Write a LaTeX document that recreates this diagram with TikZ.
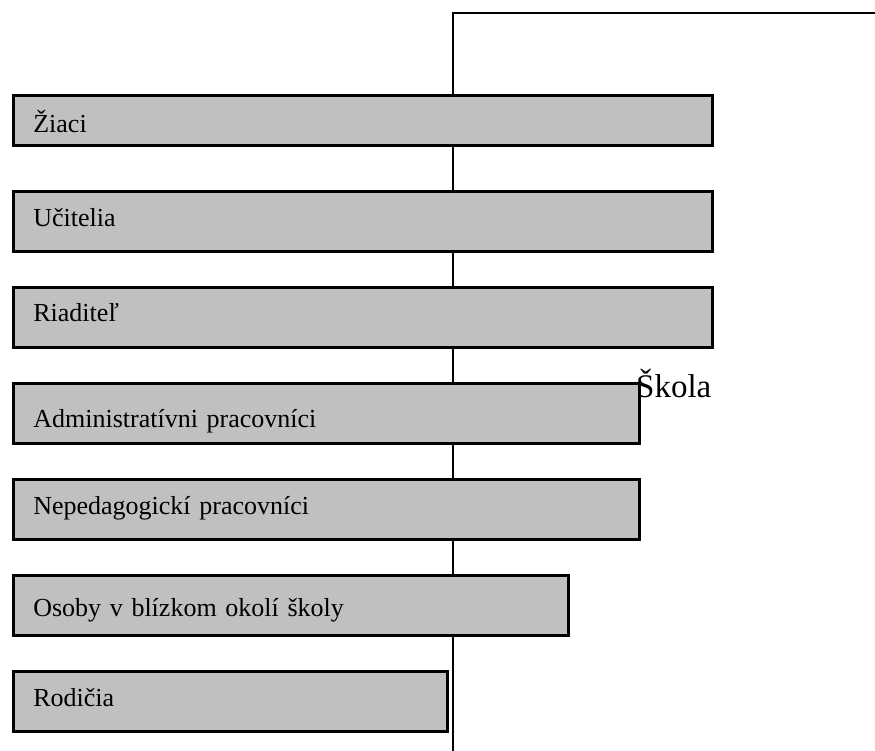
\documentclass[tikz,border=0pt]{standalone}
\usepackage{fontspec}
\setmainfont{Liberation Serif}
\definecolor{boxgray}{HTML}{C0C0C0}
\tikzset{
  member/.style={draw=black, line width=2.6pt, fill=boxgray, anchor=north west,
    inner ysep=0pt, inner xsep=20pt, minimum height=#1, align=left,
    font=\fontsize{26}{30}\selectfont, text depth=0pt},
  trunk/.style={draw=black, line width=2pt},
}
\begin{document}
\begin{tikzpicture}[x=1pt,y=-1pt]
\useasboundingbox (0,0) rectangle (875,751);
\coordinate (top) at (452.5,13);
\coordinate (right) at (875,13);
\coordinate (bottom) at (452.5,751);
\draw[trunk] (right) -- (top) -- (bottom);
\node[member=50pt, text width=659pt, text height=24pt] (ziaci) at (12,94) {Žiaci};
\node[member=60pt, text width=659pt, text height=10pt] (ucitelia) at (12,190) {Učitelia};
\node[member=60pt, text width=659pt, text height=9pt] (riaditel) at (12,286) {Riaditeľ};
\node[member=60pt, text width=586pt, text height=29pt] (admin) at (12,382) {Administratívni pracovníci};
\node[member=60pt, text width=586pt, text height=11pt] (neped) at (12,478) {Nepedagogickí pracovníci};
\node[member=60pt, text width=515pt, text height=23pt] (osoby) at (12,574) {Osoby v blízkom okolí školy};
\node[member=60pt, text width=394pt, text height=10pt] (rodicia) at (12,670) {Rodičia};
\node[anchor=base west, inner sep=0pt, font=\fontsize{33}{38}\selectfont] (skola) at (636,397) {Škola};
\end{tikzpicture}
\end{document}
